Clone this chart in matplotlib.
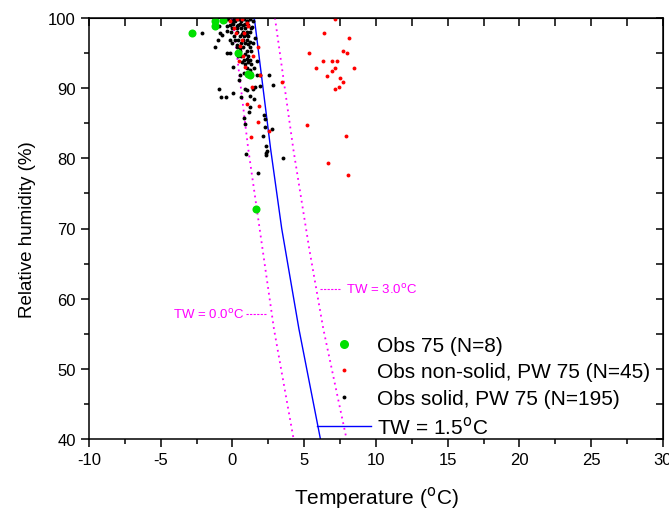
import numpy as np
import matplotlib
matplotlib.use("Agg")
import matplotlib.pyplot as plt
from matplotlib.lines import Line2D

plt.rcParams['font.family'] = ['Liberation Sans', 'DejaVu Sans']
plt.rcParams['axes.unicode_minus'] = False

# --- datos ---
# Obs 75 (N=8)
obs_t = [-2.80, -1.22, -1.22, -0.64, 0.40, 1.22, 1.05, 1.66]
obs_rh = [97.9, 99.6, 98.8, 99.7, 95.0, 91.8, 92.0, 72.8]

# Obs non-solid, PW 75 (N=45)
ns_t = [0.29, 0.68, 1.10, 0.24, 0.82, 0.64, 1.78, 0.47, 0.75, 1.41,
        0.99, 1.85, 1.76, 2.54, 1.29, 5.35, 3.43, 5.17,
        7.16, 6.40, 8.12, 7.72, 8.00, 6.28, 6.93, 7.28, 5.82, 7.16,
        8.49, 6.95, 6.59, 7.51, 7.70, 7.44, 7.16, 7.89, 6.68, 8.03,
        1.92, 1.36, -0.20, 0.10, 0.50, 1.00, 0.90]
ns_rh = [99.8, 99.8, 98.9, 97.9, 97.9, 96.9, 95.9, 93.8, 94.5, 94.5,
         87.8, 87.4, 85.1, 83.9, 83.0, 95.0, 90.8, 84.7,
         99.9, 97.9, 97.2, 95.3, 95.0, 93.8, 93.8, 93.8, 92.9, 92.9,
         92.9, 92.5, 91.7, 91.4, 90.8, 90.1, 89.9, 83.2, 79.3, 77.6,
         91.9, 90.2, 99.5, 98.5, 96.0, 99.3, 93.0]

# Obs solid, PW 75 (N=195)
sol_t = [-2.15, -1.22, -0.87, -0.75, -0.99, -0.41, -0.36, -0.41, -0.17, 0.06,
         -0.92, -0.82, -0.47, 0.06, 0.52, 0.47, 0.57, 0.87, 0.99, 1.22,
         1.41, 1.59, 1.92, 1.50, 1.22, 1.13, 0.82, 0.87, 2.20, 2.26,
         2.24, 2.77, 2.10, 2.33, 2.38, 2.33, 0.92, 3.54, 1.22, 1.69,
         1.92, 2.57, 2.80, 1.73, 1.10, 0.99, 0.87, 0.64, 0.29, 1.10,
         0.52, -0.17, 0.17, 0.64, 0.99, 1.22, 1.57, 0.29, 0.52, 0.87,
         0.06, -0.06, 0.40, 0.99, 1.34, 2.36, 1.78, -0.92,
         -0.3, 0.1, 0.5, 0.8, 1.2, -0.5, 0.2, 0.6, 1.0, 1.4,
         -0.2, 0.4, 0.7, 1.1, 0.0, 0.3, 0.6, 0.9, 1.3,
         -0.1, 0.3, 0.7, 1.0, 1.2, 0.1, 0.5, 0.8, 1.1,
         0.4, 0.7, 1.0, 0.0, 0.6, 0.9, 1.4, 0.3, 0.7, 1.2,
         0.5, 1.0, 1.3, 0.4, 0.6, 1.1, 0.8, 1.2, 0.9, 1.3,
         1.0, 1.5, 0.8, 1.3]
sol_rh = [97.9, 95.9, 97.9, 97.6, 96.9, 98.8, 98.2, 95.0, 95.0, 93.0,
          89.9, 88.8, 88.8, 89.3, 91.9, 91.1, 88.8, 89.9, 89.7, 88.9,
          89.9, 90.1, 90.3, 88.4, 87.3, 86.6, 85.7, 84.9, 86.2, 85.6,
          84.4, 84.2, 83.2, 81.8, 81.1, 80.8, 80.6, 80.1, 92.6, 91.9,
          91.9, 91.8, 90.4, 93.8, 93.7, 94.2, 94.9, 93.7, 96.2, 96.3,
          95.7, 96.9, 96.9, 97.7, 97.5, 96.5, 97.1, 98.9, 99.1, 99.1,
          99.1, 99.6, 99.8, 99.6, 98.7, 80.5, 77.9, 98.8,
          99.9, 99.9, 99.9, 99.9, 99.9, 99.5, 99.5, 99.5, 99.5, 99.5,
          99.0, 99.0, 99.0, 99.0, 98.5, 98.5, 98.5, 98.5, 98.5,
          98.0, 98.0, 98.0, 98.0, 98.0, 97.4, 97.4, 97.4, 97.4,
          96.9, 96.9, 96.9, 96.4, 96.4, 96.4, 96.4, 95.8, 95.8, 95.8,
          95.3, 95.3, 95.3, 94.6, 94.6, 94.6, 94.0, 94.0, 93.4, 93.4,
          92.8, 92.8, 92.2, 92.2]

# curvas de temperatura de bulbo humedo
tw15_rh = [100, 81.3, 70, 55.7, 40]
tw15_t = [1.52, 2.66, 3.43, 4.63, 6.13]
tw00_rh = [100, 81.3, 55.7, 40]
tw00_t = [0.0, 1.10, 2.89, 4.26]
tw30_rh = [100, 81.3, 67.1, 55.7, 40]
tw30_t = [2.96, 4.24, 5.35, 6.33, 7.95]

fig = plt.figure(figsize=(6.69, 5.10), dpi=100)
ax = fig.add_axes([0.133, 0.137, 0.858, 0.826])

ax.plot(tw00_t, tw00_rh, color='#ff00ff', ls=(0, (1, 2.2)), lw=1.3)
ax.plot(tw30_t, tw30_rh, color='#ff00ff', ls=(0, (1, 2.2)), lw=1.3)
ax.plot(tw15_t, tw15_rh, color='#0000ff', lw=1.0)

ax.plot(sol_t, sol_rh, 'o', color='black', ms=2.8, mec='none')
ax.plot(ns_t, ns_rh, 'o', color='#ff0000', ms=2.8, mec='none')
ax.plot(obs_t, obs_rh, 'o', color='#00e000', ms=5.8, mec='none')

# etiquetas de las curvas
mag = '#ff00ff'
ax.plot([6.10, 7.55], [61.4, 61.4], color=mag, lw=0.8, dashes=(2, 1.2))
ax.text(7.89, 61.4, 'TW = 3.0$^\\mathrm{o}$C', color=mag, fontsize=9.5, va='center')
ax.plot([0.94, 2.38], [57.8, 57.8], color=mag, lw=0.8, dashes=(2, 1.2))
ax.text(-4.15, 57.8, 'TW = 0.0$^\\mathrm{o}$C', color=mag, fontsize=9.5, va='center')

ax.set_xlim(-10, 30)
ax.set_ylim(40, 100)
ax.set_xticks(np.arange(-10, 31, 5))
ax.set_xticks(np.arange(-7.5, 30, 5), minor=True)
ax.set_yticks(np.arange(40, 101, 10))
ax.set_yticks(np.arange(45, 100, 10), minor=True)
ax.tick_params(which='major', direction='out', length=6, width=1.1, labelsize=12)
ax.tick_params(which='minor', direction='out', length=3.5, width=1.1)
for s in ax.spines.values():
    s.set_linewidth(1.1)

top = ax.secondary_xaxis('top')
top.set_xticks(np.arange(-10, 30.1, 2.5))
top.tick_params(direction='in', length=6, width=1.1, labeltop=False)
right = ax.secondary_yaxis('right')
right.set_yticks(np.arange(40, 100.1, 5))
right.tick_params(direction='in', length=5, width=1.1, labelright=False)

ax.set_xlabel('Temperature ($^\\mathrm{o}$C)', fontsize=15, labelpad=12)
ax.set_ylabel('Relative humidity (%)', fontsize=13.5, labelpad=9)

handles = [
    Line2D([], [], ls='none', marker='o', color='#00e000', ms=6.5, mec='none'),
    Line2D([], [], ls='none', marker='o', color='#ff0000', ms=2.8, mec='none'),
    Line2D([], [], ls='none', marker='o', color='black', ms=2.8, mec='none'),
    Line2D([], [], color='#0000ff', lw=1.0),
]
labels = ['Obs 75 (N=8)', 'Obs non-solid, PW 75 (N=45)',
          'Obs solid, PW 75 (N=195)', 'TW = 1.5$^\\mathrm{o}$C']
ax.legend(handles, labels, loc='upper left', bbox_to_anchor=(0.397, 0.245),
          frameon=False, fontsize=15, handlelength=2.6, handletextpad=0.29,
          labelspacing=0.36, borderpad=0, borderaxespad=0, numpoints=1)

plt.savefig('out.png', dpi=100)
